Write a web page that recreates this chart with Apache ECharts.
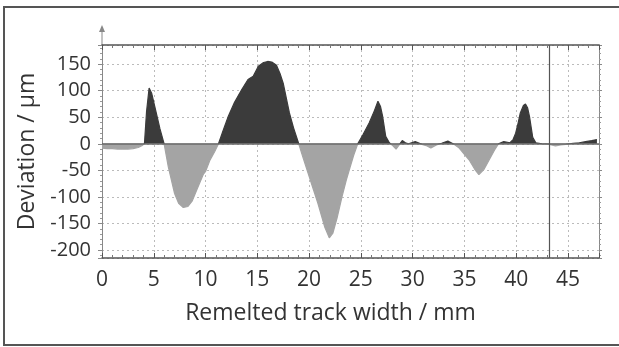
<!DOCTYPE html>
<html>
<head>
<meta charset="utf-8">
<script src="https://cdn.jsdelivr.net/npm/echarts@6/dist/echarts.min.js"></script>
<style>
  html, body { margin: 0; padding: 0; background: #fff; }
  #chart { width: 619px; height: 347px; }
</style>
</head>
<body>
<div id="chart"></div>
<script>
// profile: track position (mm) and deviation (µm)
const trackX = [
  0, 0.5, 1, 1.5, 2, 2.5, 3, 3.5, 3.9, 4.1, 4.3, 4.55, 4.8, 5.1, 5.6, 6.0,
  6.4, 7.0, 7.4, 7.85, 8.3, 8.7, 9.3, 9.8, 10.0, 10.4, 10.9, 11.25,
  11.7, 12.2, 12.8, 13.5, 14.1, 14.6, 15.1, 15.6, 16.0, 16.4, 16.85, 17.2, 17.5, 18.1, 18.5, 19.0,
  19.4, 19.9, 20.4, 20.85, 21.5, 21.95, 22.3, 22.7, 23.2, 23.6, 23.9, 24.3, 24.7,
  25.2, 25.8, 26.3, 26.65, 26.9, 27.1, 27.4, 27.75, 28.1, 28.4, 28.7, 29.0, 29.3, 29.6,
  30.25, 30.9, 31.4, 31.76, 32.3, 32.8, 33.4, 34.0, 34.5, 35.0, 35.45, 36.0, 36.4, 36.9,
  37.4, 37.9, 38.3, 38.8, 39.4, 39.7, 39.95, 40.2, 40.4, 40.7, 40.9, 41.1, 41.3, 41.6, 41.9,
  42.5, 43.2, 43.8, 44.3, 44.8, 45.5, 46.1, 46.7, 47.3, 47.8
];
const deviation = [
  -8, -9, -9, -10, -10, -10, -9, -7, -3, 0, 60, 105, 95, 70, 28, 0,
  -43, -93, -112, -120, -118, -108, -80, -57, -52, -32, -14, 0,
  25, 52, 78, 102, 121, 127, 146, 153, 155, 154, 148, 132, 114, 58, 30, 0,
  -25, -55, -85, -112, -156, -177, -168, -140, -98, -68, -48, -22, 0,
  17, 39, 62, 80, 70, 52, 14, 2, -4, -10, -2, 6, 2, 0,
  4, -1, -4, -8, -2, 1, 5, -1, -8, -20, -30, -48, -58, -48,
  -30, -12, 0, 4, 2, 8, 20, 40, 58, 72, 75, 68, 50, 12, 2,
  0, -1, -4, -2, -1, 1, 2, 4, 6, 8
];
const cursorX = 43.2;
const xTicks = [0, 5, 10, 15, 20, 25, 30, 35, 40, 45];
const yTicks = [150, 100, 50, 0, -50, -100, -150, -200];

const points = trackX.map((x, i) => [x, deviation[i]]);

const chart = echarts.init(document.getElementById('chart'));
const font = 'Open Sans';
const axisGray = '#555';

const option = {
  backgroundColor: '#fff',
  animation: false,
  grid: { left: 102, right: 20, top: 45, bottom: 89 },
  xAxis: [
    {
      type: 'value', min: 0, max: 48, interval: 5, position: 'bottom',
      name: 'Remelted track width / mm', nameLocation: 'middle', nameGap: 44,
      nameTextStyle: { fontFamily: font, fontSize: 23, color: '#333', padding: [0, 40, 0, 0] },
      axisLine: { onZero: false, lineStyle: { color: axisGray, width: 1.5 } },
      axisTick: { inside: true, length: 5, lineStyle: { color: axisGray } },
      minorTick: { show: true, splitNumber: 5, length: 3, lineStyle: { color: '#777' } },
      splitLine: { show: true, lineStyle: { color: '#bbb', type: [2, 3] } },
      axisLabel: {
        fontFamily: font, fontSize: 21, color: '#333', margin: 12,
        formatter: v => xTicks.includes(v) ? String(v) : ''
      }
    },
    {
      type: 'value', min: 0, max: 48, interval: 5, position: 'top',
      axisLine: { onZero: false, lineStyle: { color: axisGray, width: 1.5 } },
      axisTick: { inside: true, length: 5, lineStyle: { color: axisGray } },
      minorTick: { show: true, splitNumber: 5, length: 3, lineStyle: { color: '#777' } },
      splitLine: { show: false },
      axisLabel: { show: false }
    }
  ],
  yAxis: [
    {
      type: 'value', min: -215, max: 186, splitNumber: 8, position: 'left',
      name: 'Deviation / µm', nameLocation: 'middle', nameGap: 47,
      nameTextStyle: { fontFamily: font, fontSize: 23, color: '#333' },
      axisLine: { show: true, onZero: false, lineStyle: { color: '#888', width: 1 } },
      axisTick: { show: true, inside: false, length: 4, lineStyle: { color: '#888' } },
      minorTick: { show: true, splitNumber: 5, length: 2, lineStyle: { color: '#999' } },
      splitLine: { show: true, lineStyle: { color: '#bbb', type: [2, 3] } },
      axisLabel: {
        fontFamily: font, fontSize: 20, color: '#333', margin: 11,
        formatter: v => yTicks.includes(v) ? String(v) : ''
      }
    },
    {
      type: 'value', min: -215, max: 186, splitNumber: 8, position: 'right',
      axisLine: { show: true, onZero: false, lineStyle: { color: '#888', width: 1 } },
      axisTick: { show: true, inside: false, length: 3, lineStyle: { color: '#888' } },
      minorTick: { show: true, splitNumber: 5, length: 2, lineStyle: { color: '#999' } },
      splitLine: { show: false },
      axisLabel: { show: false }
    }
  ],
  visualMap: {
    show: false, type: 'piecewise', seriesIndex: 0, dimension: 1,
    pieces: [
      { gte: -1000, lt: 0, color: '#a4a4a4' },
      { gte: 0, lte: 1000, color: '#3b3b3b' }
    ]
  },
  series: [
    {
      type: 'line', data: points, showSymbol: false, silent: true,
      xAxisIndex: 0, yAxisIndex: 0,
      lineStyle: { width: 1.2 },
      areaStyle: { opacity: 1, origin: 0 }
    },
    {
      type: 'line', data: [], silent: true, xAxisIndex: 0, yAxisIndex: 0,
      markLine: {
        silent: true, symbol: 'none', label: { show: false },
        data: [
          { yAxis: 0, lineStyle: { color: '#6a6a6a', width: 1.6, type: 'solid' } },
          { xAxis: cursorX, lineStyle: { color: '#555', width: 1.2, type: 'solid' } }
        ]
      }
    }
  ],
  graphic: [
    {
      type: 'rect', silent: true,
      shape: { x: 4, y: 7, width: 640, height: 338 },
      style: { fill: 'none', stroke: '#555', lineWidth: 2 }
    },
    {
      type: 'line', silent: true,
      shape: { x1: 102, y1: 45, x2: 102, y2: 28 },
      style: { stroke: '#888', lineWidth: 1 }
    },
    {
      type: 'polygon', silent: true,
      shape: { points: [[102, 25], [99, 32], [105, 32]] },
      style: { fill: '#888' }
    }
  ]
};

chart.setOption(option);
</script>
</body>
</html>
